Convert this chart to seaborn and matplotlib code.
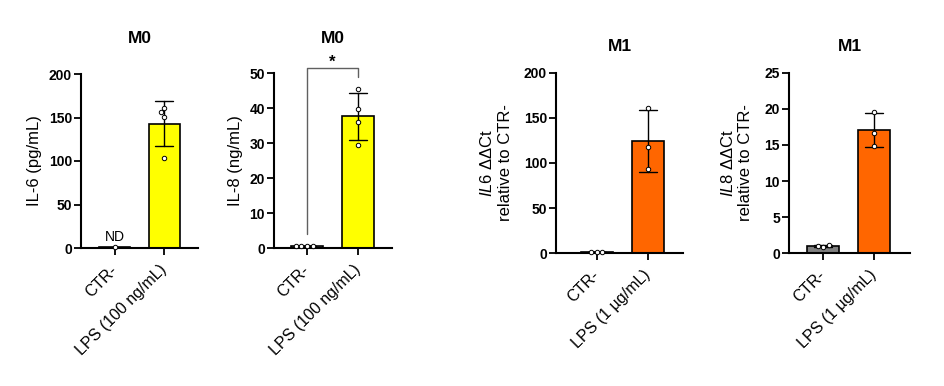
import pandas as pd
import matplotlib
matplotlib.use("Agg")
import matplotlib.pyplot as plt
import seaborn as sns

# data (individual replicates, bars = mean, error = SD)
groups_m0 = ["CTR-", "LPS (100 ng/mL)"]
groups_m1 = ["CTR-", "LPS (1 µg/mL)"]

il6_m0_ctr = [1.0]
il6_m0_lps = [161, 156, 151, 104]
il8_m0_ctr = [0.5, 0.6, 0.6, 0.5]
il8_m0_lps = [45.4, 39.7, 36.1, 29.4]

il6_m1_ctr = [1.0, 0.9, 1.1]
il6_m1_lps = [161, 118, 93]
il8_m1_ctr = [0.9, 1.15, 0.95]
il8_m1_lps = [19.6, 16.6, 14.9]

GRAY = "#808080"
YELLOW = "#FFFF00"
ORANGE = "#FF6600"

sns.set_theme(style="ticks")
plt.rcParams["font.family"] = ["Liberation Sans", "DejaVu Sans"]
plt.rcParams["mathtext.fontset"] = "custom"
plt.rcParams["mathtext.rm"] = "Liberation Sans"
plt.rcParams["mathtext.it"] = "Liberation Sans:italic"
for k in ["text.color", "axes.labelcolor", "xtick.color", "ytick.color",
          "axes.edgecolor"]:
    plt.rcParams[k] = "black"


def draw_panel(ax, groups, ctr, lps, color, ylim, yticks, ylabel, title,
               title_pad, xlim, labelpad):
    df = pd.DataFrame({
        "group": [groups[0]] * len(ctr) + [groups[1]] * len(lps),
        "value": list(ctr) + list(lps),
    })
    sns.barplot(data=df, x="group", y="value", hue="group", order=groups,
                hue_order=groups, palette=[GRAY, color], saturation=1,
                errorbar="sd", capsize=0.35, width=0.63, edgecolor="black",
                linewidth=1.2, err_kws={"color": "black", "linewidth": 1.0},
                legend=False, ax=ax)
    sns.swarmplot(data=df, x="group", y="value", order=groups, color="white",
                  edgecolor="black", linewidth=0.7, size=3.2, ax=ax, zorder=4)
    for c in ax.collections:
        c.set_clip_on(False)
    for p in ax.patches:
        p.set_clip_on(False)
    ax.set_xlim(*xlim)
    ax.set_ylim(*ylim)
    ax.set_yticks(yticks)
    ax.set_xlabel("")
    ax.set_ylabel(ylabel, fontsize=12, labelpad=labelpad)
    ax.set_title(title, fontsize=12.5, fontweight="bold", pad=title_pad)
    sns.despine(ax=ax)
    for s in ["left", "bottom"]:
        ax.spines[s].set_linewidth(1.5)
    ax.tick_params(axis="both", length=5, width=1.3, pad=1.5)
    ax.tick_params(axis="y", labelsize=10)
    for t in ax.get_yticklabels():
        t.set_fontweight("bold")
    ax.set_xticks(range(len(groups)))
    ax.set_xticklabels(groups, rotation=45, ha="right", va="center",
                       rotation_mode="anchor", fontsize=11.5)
    ax.tick_params(axis="x", pad=9)


fig = plt.figure(figsize=(9.45, 3.86), dpi=100)
W, H = 945, 386


def add_axes(left, right, bottom, top):
    return fig.add_axes([left / W, (H - bottom) / H, (right - left) / W,
                         (bottom - top) / H])


ax1 = add_axes(81, 198, 248, 74)
ax2 = add_axes(274, 392, 248, 73.3)
ax3 = add_axes(556, 683, 253.3, 72.7)
ax4 = add_axes(789, 910, 253.3, 72.7)

draw_panel(ax1, groups_m0, il6_m0_ctr, il6_m0_lps, YELLOW, (0, 200),
           [0, 50, 100, 150, 200], "IL-6 (pg/mL)", "M0", 22,
           (-0.69, 1.69), 5)
ax1.text(0, 5, "ND", ha="center", va="bottom", fontsize=10)

draw_panel(ax2, groups_m0, il8_m0_ctr, il8_m0_lps, YELLOW, (0, 50),
           [0, 10, 20, 30, 40, 50], "IL-8 (ng/mL)", "M0", 22,
           (-0.65, 1.67), 5)
# significance bracket
ax2.plot([0, 0, 1, 1], [4, 51.4, 51.4, 49], color="#606060", lw=1.0,
         clip_on=False)
ax2.text(0.5, 52, "*", ha="center", va="baseline", fontsize=12,
         fontweight="bold")

draw_panel(ax3, groups_m1, il6_m1_ctr, il6_m1_lps, ORANGE, (0, 200),
           [0, 50, 100, 150, 200],
           "$\\it{IL6}$ ΔΔCt\nrelative to CTR-", "M1", 15.5,
           (-0.8, 1.69), 8)

draw_panel(ax4, groups_m1, il8_m1_ctr, il8_m1_lps, ORANGE, (0, 25),
           [0, 5, 10, 15, 20, 25],
           "$\\it{IL8}$ ΔΔCt\nrelative to CTR-", "M1", 15.5,
           (-0.67, 1.7), 8)

fig.savefig("out.png", dpi=100, facecolor="white")
